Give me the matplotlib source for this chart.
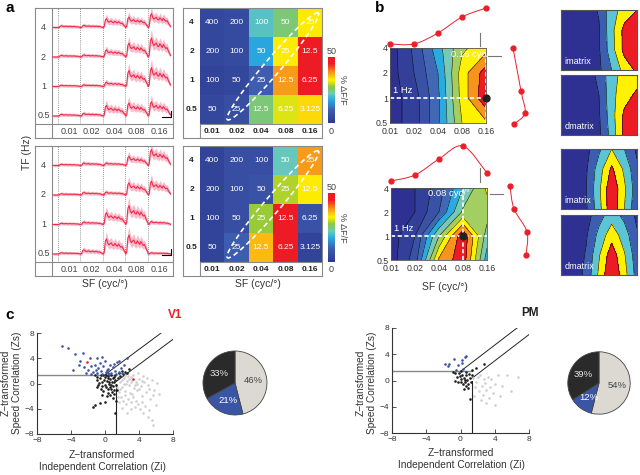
import numpy as np
import matplotlib.pyplot as plt
from matplotlib.colors import LinearSegmentedColormap
from matplotlib.path import Path
from matplotlib.patches import PathPatch
from matplotlib.lines import Line2D
from matplotlib.cm import ScalarMappable
from matplotlib.colors import Normalize

plt.rcParams['font.family'] = ['Liberation Sans', 'DejaVu Sans']

# ---------------- data ----------------
sf_labels = ['0.01', '0.02', '0.04', '0.08', '0.16']
tf_labels = ['4', '2', '1', '0.5']
speed_labels = [['400', '200', '100', '50', '25'],
                ['200', '100', '50', '25', '12.5'],
                ['100', '50', '25', '12.5', '6.25'],
                ['50', '25', '12.5', '6.25', '3.125']]

# mean response (% dF/F); rows TF 4,2,1,0.5 ; columns SF
resp_top = [[4, 5, 21, 25, 33],
            [4, 5, 17, 33, 45],
            [3, 4, 10, 38, 45],
            [4, 6, 25, 31, 34]]
resp_bot = [[3, 6, 6, 22, 38],
            [3, 6, 7, 29, 33],
            [3, 6, 28, 45, 7],
            [3, 10, 36, 45, 3]]

# normalised time course of one stimulus response
resp_shape = [0.0, 0.1, 0.85, 1.0, 0.72, 0.6, 0.68, 0.74, 0.58, 0.55,
              0.7, 0.6, 0.5, 0.66, 0.55, 0.45, 0.5, 0.35, 0.2, 0.08]

# fitted model maps (contour level), rows TF 4,2,1,0.5
fit_top = [[0.5, 2.2, 4.6, 6.8, 7.6],
           [0.5, 2.0, 4.0, 7.5, 9.5],
           [0.5, 1.5, 3.8, 7.4, 9.8],
           [0.5, 1.5, 3.8, 7.0, 7.8]]
fit_bot = [[0.3, 1.0, 2.5, 5.0, 7.2],
           [0.3, 1.0, 3.0, 6.2, 6.5],
           [0.5, 2.0, 6.0, 9.8, 5.5],
           [0.5, 2.5, 8.2, 9.6, 4.5]]

# SF tuning (top of map) and TF tuning (side of map)
sf_tune_top = [6, 6, 17, 33, 42]
sf_tune_bot = [4, 10, 26, 39, 12]
tf_tune_top_x = [8, 16, 20, 9]
tf_tune_top_y = [3.0, 1.28, 0.4, -0.04]
tf_tune_bot_x = [5, 9, 22, 21]
tf_tune_bot_y = [3.08, 2.13, 1.17, 0.21]

# imatrix / dmatrix maps, rows bottom -> top
imat_top = [[0.2, 0.3, 0.4, 0.8, 2.0, 3.4, 4.2],
            [0.2, 0.3, 0.4, 0.9, 2.6, 4.3, 5.5],
            [0.2, 0.3, 0.4, 0.9, 2.7, 4.3, 5.5],
            [0.2, 0.3, 0.5, 1.1, 2.6, 3.4, 4.0]]
dmat_top = [[0.2, 0.3, 0.4, 0.8, 2.4, 4.3, 5.5],
            [0.2, 0.3, 0.4, 0.9, 2.6, 4.2, 5.2],
            [0.2, 0.3, 0.5, 1.0, 2.7, 3.6, 4.2],
            [0.2, 0.3, 0.6, 1.2, 2.7, 3.3, 3.5]]
imat_bot = [[0.2, 0.3, 0.9, 2.6, 4.8, 3.0, 1.2],
            [0.2, 0.3, 1.0, 2.8, 4.8, 3.2, 1.4],
            [0.2, 0.3, 0.9, 2.5, 4.2, 2.8, 1.2],
            [0.2, 0.3, 0.7, 1.8, 3.0, 2.0, 0.8]]
dmat_bot = [[0.2, 0.4, 1.3, 3.2, 5.0, 3.4, 1.6],
            [0.2, 0.4, 1.1, 2.9, 4.6, 3.1, 1.4],
            [0.2, 0.3, 0.9, 2.3, 3.6, 2.5, 1.1],
            [0.2, 0.3, 0.6, 1.6, 2.5, 1.7, 0.8]]

# panel c: (Zi, Zs) per neuron
v1_blue = [(-5.1, 6.0), (-4.3, 5.6), (-3.5, 4.6), (-2.6, 4.8), (-2.9, 3.6), (-3.1, 2.9),
           (-1.8, 4.0), (-1.0, 4.1), (-0.4, 4.25), (2.55, 4.1), (1.4, 3.45), (-2.5, 2.6),
           (-2.0, 2.2), (-1.6, 2.8), (-1.2, 3.0), (-0.8, 2.4), (-0.5, 2.0), (-0.2, 2.7),
           (0.1, 1.9), (0.4, 2.3), (0.7, 1.7), (0.9, 2.6), (1.2, 2.0), (1.6, 1.8),
           (1.9, 2.4), (2.2, 2.9), (-1.4, 1.8), (-0.9, 1.6), (-0.3, 1.5), (0.3, 1.6),
           (0.6, 2.9), (-2.2, 1.7), (-1.7, 1.5), (-0.6, 3.3), (0.0, 3.6), (1.0, 3.1),
           (1.7, 3.6), (2.0, 1.6), (-3.8, 2.2), (0.5, 1.45), (1.3, 1.5), (-1.1, 2.1), (0.2, 2.1)]
v1_black = [(-1.0, 0.6), (-0.8, -0.2), (-0.6, 0.9), (-0.5, -0.8), (-0.3, 0.3), (-0.2, -1.2),
            (0.0, 1.0), (0.1, -0.5), (0.2, 0.4), (0.3, -1.5), (0.4, 1.2), (0.5, -0.1),
            (0.6, 0.7), (0.7, -0.9), (0.8, 0.2), (0.9, -0.4), (1.0, 1.0), (1.1, -1.1),
            (1.2, 0.5), (1.3, -0.2), (-0.7, 0.1), (-0.4, -0.4), (0.0, -0.2), (0.3, 0.9),
            (0.6, -0.6), (0.9, 0.8), (1.2, 1.3), (1.5, 0.9), (1.8, 1.2), (2.1, 1.5),
            (2.4, 1.9), (2.8, 2.3), (1.6, 1.6), (2.0, 2.0), (2.6, 1.6), (-1.2, 1.3),
            (-0.9, 1.1), (-0.2, 1.3), (0.2, -2.0), (0.6, -1.8), (0.9, -2.3), (-0.3, -1.9),
            (0.0, -2.9), (-0.55, -3.1), (-1.2, -3.4), (-1.4, -3.7), (1.2, -4.7), (0.8, -1.3),
            (1.3, -2.7), (-0.1, 0.6), (0.45, 0.2), (0.75, -0.2), (1.05, 0.3), (-0.5, 1.4),
            (0.1, 1.4), (0.7, 1.4), (1.4, -1.0), (1.1, -1.6), (-0.9, -0.6), (0.3, -0.8)]
v1_grey = [(1.5, 0.8), (1.8, 0.2), (2.0, -0.5), (2.2, 0.9), (2.4, -1.2), (2.6, 0.4),
           (2.8, -0.3), (3.0, 1.0), (3.2, -1.6), (3.4, -0.7), (3.6, 0.3), (3.8, -1.1),
           (4.0, 0.7), (4.2, -0.4), (4.4, -2.0), (4.6, 0.2), (4.8, -1.3), (5.0, -0.2),
           (5.3, -2.5), (5.5, 0.6), (5.8, -1.0), (6.1, 0.1), (1.6, -1.4), (1.9, -2.1),
           (2.1, -2.8), (2.3, -1.8), (2.5, -3.3), (2.7, -2.4), (2.9, -1.5), (3.1, -3.0),
           (3.3, -2.2), (3.5, -3.7), (3.7, -2.7), (3.9, -3.2), (4.1, -4.1), (4.3, -3.0),
           (4.5, -4.6), (4.7, -3.6), (5.0, -5.3), (5.2, -4.2), (5.7, -6.6), (5.5, -5.8),
           (6.0, -3.4), (1.7, -3.0), (2.0, -3.9), (2.3, 1.3), (2.7, 1.2), (3.3, 1.4),
           (3.9, 1.6), (4.5, 1.2), (1.6, 1.2), (2.0, 0.6), (2.5, -0.1), (3.0, 0.3),
           (3.5, -0.2), (4.0, -0.8), (1.4, -0.6), (1.8, -0.8), (2.2, -0.1), (2.8, 0.7),
           (3.2, 0.6), (3.8, 0.0), (4.3, 0.4), (4.9, 0.9), (5.2, -0.9), (5.6, -1.8),
           (2.6, -4.6), (3.0, -4.1), (1.5, -2.2), (6.4, -1.6)]
v1_red = [(-2.1, 3.45), (3.3, 0.7)]

pm_blue = [(-1.8, 2.5), (-1.5, 2.25), (-0.8, 3.3), (-0.25, 2.4), (0.15, 3.1), (0.5, 3.6),
           (0.6, 3.8), (0.2, 2.7), (-1.3, 2.5), (0.3, 1.7), (-0.5, 1.6)]
pm_black = [(-0.9, 1.3), (-0.6, 1.1), (-0.4, 0.6), (-0.2, 1.2), (0.0, 0.3), (0.1, -0.2),
            (0.2, 0.9), (0.3, -0.6), (0.4, 0.4), (0.5, -0.3), (0.6, 0.8), (0.7, -0.9),
            (0.8, 0.1), (0.9, -0.5), (1.0, 1.0), (1.1, 0.4), (1.2, -0.3), (-0.3, -0.3),
            (0.4, -1.3), (0.7, 1.3), (1.4, 1.6), (1.8, 1.9), (2.75, 2.5), (1.1, -2.8),
            (-0.7, 0.0), (0.0, 1.4), (0.55, 0.1), (0.85, -1.1), (-0.1, 0.7), (1.3, 0.8)]
pm_grey = [(1.5, 0.4), (1.8, -0.3), (2.0, 0.6), (2.3, 0.8), (2.5, -0.8), (2.8, 0.2),
           (3.0, -1.4), (3.2, 0.5), (3.6, 0.2), (4.0, -0.6), (4.4, 0.8), (5.4, 0.9),
           (6.7, 0.6), (5.9, -1.6), (4.0, -3.8), (2.2, -1.6), (2.6, -2.2), (3.3, -2.6),
           (3.8, -1.9), (4.6, -2.3), (1.7, -1.0), (2.9, -0.4), (3.4, -1.0), (1.6, -2.4),
           (2.4, -3.0), (3.0, -3.5), (4.9, -0.8)]

zs_thr = 1.4      # speed threshold
zi_thr = 1.3      # independent threshold

v1_pie = [46, 21, 33]
v1_pie_labels = ['46%', '21%', '33%']
pm_pie = [54, 12, 34]
pm_pie_labels = ['54%', '12%', '39%']

# ---------------- style ----------------
W, H = 640, 475
fig = plt.figure(figsize=(6.4, 4.75), dpi=100)

heat_cmap = LinearSegmentedColormap.from_list('heat', [
    (0.0, '#2b3990'), (0.2, '#3f5db0'), (0.35, '#29abe2'), (0.45, '#6ccbb5'),
    (0.55, '#8dc63f'), (0.65, '#fff200'), (0.77, '#f7941d'), (0.9, '#ed1c24'), (1.0, '#ed1c24')])
fit_colors = ['#2e3192', '#33409a', '#3a52a6', '#4268b5', '#29abe2',
              '#74c9b7', '#a3cf62', '#fff200', '#f7941d', '#ed1c24']
mat_colors = ['#2e3192', '#3d5db0', '#5cc5d5', '#fff200', '#ed1c24']
RED = '#e8202a'
BLUE = '#3b55a5'
GREY_TXT = '#444444'


def px_axes(x0, y0, x1, y1):
    return fig.add_axes([x0 / W, 1 - y1 / H, (x1 - x0) / W, (y1 - y0) / H])


def ftext(x, y, s, **kw):
    fig.text(x / W, 1 - y / H, s, **kw)


def fline(xs, ys, **kw):
    fig.add_artist(Line2D([x / W for x in xs], [1 - y / H for y in ys], **kw))


def smooth_curve(ax, xs, ys, **kw):
    pts = np.column_stack([xs, ys]).astype(float)
    n = len(pts)
    verts = [pts[0]]
    codes = [Path.MOVETO]
    for i in range(n - 1):
        p0, p1 = pts[max(i - 1, 0)], pts[i]
        p2, p3 = pts[i + 1], pts[min(i + 2, n - 1)]
        verts += [p1 + (p2 - p0) / 6, p2 - (p3 - p1) / 6, p2]
        codes += [Path.CURVE4] * 3
    ax.add_patch(PathPatch(Path(verts, codes), fill=False, **kw))


def box_spines(ax, color='#8a8a8a'):
    for s in ax.spines.values():
        s.set_color(color)
        s.set_linewidth(0.8)
    ax.set_xticks([])
    ax.set_yticks([])


# ---------------- panel a : traces ----------------
def draw_traces(ax, resp):
    ax.set_xlim(-1.02, 5.11)
    ax.set_ylim(0, 130)
    box_spines(ax)
    ax.vlines(range(5), 14, 130, colors='#777777', linestyles=(0, (1, 1.5)), lw=0.6)
    ax.axhline(14, color='#8a8a8a', lw=0.8)
    ax.axvline(-0.27, color='#8a8a8a', lw=0.8)
    ns = len(resp_shape)
    for r, row in enumerate(resp):
        base = 110.5 - 29.5 * r
        xs = [np.array([-0.22, 0.0])]
        ys = [np.zeros(2)]
        for k, v in enumerate(row):
            xs.append(k + np.linspace(0, 1, ns))
            ys.append(np.array(resp_shape) * v * 0.42)
        x = np.concatenate(xs)
        y = np.concatenate(ys)
        ax.fill_between(x, base + y - 1.2 - 0.3 * y, base + y + 1.5 + 0.35 * y,
                        color='#f6bccd', lw=0)
        ax.plot(x, base + y, color='#ef2b47', lw=0.8)
        ax.text(-0.64, base, tf_labels[r], ha='center', va='center', size=6.5, color=GREY_TXT)
    for k, lab in enumerate(sf_labels):
        ax.text(k + 0.5, 7, lab, ha='center', va='center', size=6.5, color=GREY_TXT)
    ax.plot([4.6, 5.0, 5.0], [21, 21, 27], color='k', lw=0.8)


def draw_heat(ax, resp):
    z = np.array(resp, dtype=float)[::-1]
    ax.pcolormesh(np.arange(6), np.arange(5), z, cmap=heat_cmap, vmin=0, vmax=50)
    ax.set_xlim(-0.7, 5)
    ax.set_ylim(-0.48, 4)
    box_spines(ax)
    ax.plot([0, 0], [-0.48, 0], color='#8a8a8a', lw=0.8)
    ax.plot([0, 5], [0, 0], color='#8a8a8a', lw=0.8)
    for r in range(4):
        for c in range(5):
            ax.text(c + 0.5, 3.5 - r, speed_labels[r][c], color='white',
                    ha='center', va='center', size=6)
        ax.text(-0.35, 3.5 - r, tf_labels[r], ha='center', va='center', size=6,
                weight='bold', color='#222222')
    for c, lab in enumerate(sf_labels):
        ax.text(c + 0.5, -0.25, lab, ha='center', va='center', size=6, weight='bold',
                color='#222222')
    # dashed iso-speed ellipse
    sx, sy = 24.4, 29.0
    p1 = np.array([1.12, 0.15])
    p2 = np.array([4.85, 3.83])
    c0 = (p1 + p2) / 2
    d = (p2 - p1) * [sx, sy]
    a = np.hypot(*d) / 2
    u = d / np.hypot(*d)
    v = np.array([-u[1], u[0]])
    t = np.linspace(0, 2 * np.pi, 200)
    pts = np.outer(a * np.cos(t), u) + np.outer(8 * np.sin(t), v)
    ax.plot(c0[0] + pts[:, 0] / sx, c0[1] + pts[:, 1] / sy, color='white', lw=1.2,
            dashes=(3, 2))


def draw_cbar(y0, y1):
    cax = px_axes(328, y0, 335, y1)
    cb = fig.colorbar(ScalarMappable(Normalize(0, 50), heat_cmap), cax=cax)
    cb.outline.set_visible(False)
    cax.set_yticks([])
    ftext(331.5, y0 - 6, '50', ha='center', va='center', size=6.5, color=GREY_TXT)
    ftext(331.5, y1 + 8, '0', ha='center', va='center', size=6.5, color=GREY_TXT)
    ftext(342, (y0 + y1) / 2, '% ΔF/F', ha='center', va='center', size=6.5,
          rotation=-90, color=GREY_TXT)


ax = px_axes(35, 8, 173, 138)
draw_traces(ax, resp_top)
ax = px_axes(35, 146, 173, 276)
draw_traces(ax, resp_bot)
ax = px_axes(183, 8, 322, 138)
draw_heat(ax, resp_top)
ax = px_axes(183, 146, 322, 276)
draw_heat(ax, resp_bot)
draw_cbar(57, 123)
draw_cbar(193, 262)

ftext(6, 8, 'a', size=11, weight='bold', va='center')
ftext(27, 152, 'TF (Hz)', rotation=90, ha='center', va='center', size=7.5, color='#333333')
ftext(105, 284, 'SF (cyc/°)', ha='center', va='center', size=7.5, color='#333333')
ftext(258, 284, 'SF (cyc/°)', ha='center', va='center', size=7.5, color='#333333')


# ---------------- panel b : fitted maps ----------------
def draw_fit(ax, fit, sf_i, sf_text, text_x):
    z = np.array(fit)[::-1]
    X, Y = np.meshgrid(np.arange(5), np.arange(4))
    ax.contourf(X, Y, z, levels=np.arange(11), colors=fit_colors)
    ax.contour(X, Y, z, levels=np.arange(1, 10), colors='k', linewidths=0.35)
    ax.set_xlim(0, 4)
    ax.set_ylim(0, 3)
    ax.set_xticks(range(5))
    ax.set_xticklabels(sf_labels)
    ax.set_yticks(range(4))
    ax.set_yticklabels(tf_labels[::-1])
    ax.tick_params(length=0, labelsize=6.3, colors='#333333')
    ax.tick_params(axis='x', pad=3)
    ax.tick_params(axis='y', pad=1.5)
    for s in ax.spines.values():
        s.set_color('#555555')
        s.set_linewidth(0.6)
    ax.plot([0, 4], [1, 1], color='white', lw=1.2, dashes=(2.5, 1.5))
    ax.plot([sf_i, sf_i], [0, 3], color='white', lw=1.2, dashes=(2.5, 1.5))
    ax.plot(sf_i, 1, 'o', color='#222222', ms=5, clip_on=False, zorder=5)
    ax.text(0.12, 1.12, '1 Hz', color='white', size=6.8, va='bottom')
    ax.text(text_x, 2.75, sf_text, color='white', size=6.8, va='center')


def draw_sf_tune(ax, vals, top):
    ax.set_xlim(0, 4)
    ax.set_ylim(0, top)
    ax.axis('off')
    smooth_curve(ax, range(5), vals, ec=RED, lw=0.7)
    ax.plot(range(5), vals, 'o', color=RED, ms=3.5, clip_on=False)


def draw_tf_tune(ax, xs, ys):
    ax.set_xlim(0, 30)
    ax.set_ylim(0, 3)
    ax.axis('off')
    smooth_curve(ax, xs, ys, ec=RED, lw=0.7)
    ax.plot(xs, ys, 'o', color=RED, ms=3.5, clip_on=False)


def draw_mat(ax, mat, label):
    z = np.array(mat)
    X, Y = np.meshgrid(np.linspace(0, 1, z.shape[1]), np.linspace(0, 1, z.shape[0]))
    ax.contourf(X, Y, z, levels=[0, 1, 2, 3, 4, 6], colors=mat_colors)
    ax.contour(X, Y, z, levels=[1, 2, 3, 4], colors='k', linewidths=0.4)
    box_spines(ax, '#555555')
    ax.text(0.05, 0.1, label, color='white', size=6.5, transform=ax.transAxes)


ax = px_axes(390, 48, 486, 123)
draw_fit(ax, fit_top, 4, '0.16 cyc/°', 2.55)
ax = px_axes(391, 188, 487, 260)
draw_fit(ax, fit_bot, 3, '0.08 cyc/°', 1.55)

draw_sf_tune(px_axes(390, 0, 486, 50), sf_tune_top, 50)
draw_sf_tune(px_axes(391, 130, 487, 185), sf_tune_bot, 55)
draw_tf_tune(px_axes(505, 48, 535, 123), tf_tune_top_x, tf_tune_top_y)
draw_tf_tune(px_axes(505, 188, 535, 260), tf_tune_bot_x, tf_tune_bot_y)

fline([480, 480], [33, 46], color='#777777', lw=0.8)
fline([488, 501], [56, 56], color='#777777', lw=0.8)
fline([480, 480], [168, 182], color='#777777', lw=0.8)
fline([490, 503], [194, 194], color='#777777', lw=0.8)

draw_mat(px_axes(561, 10, 637, 70), imat_top, 'imatrix')
draw_mat(px_axes(561, 75, 637, 135), dmat_top, 'dmatrix')
draw_mat(px_axes(561, 149, 637, 209), imat_bot, 'imatrix')
draw_mat(px_axes(561, 215, 637, 275), dmat_bot, 'dmatrix')

ftext(375, 8, 'b', size=11, weight='bold', va='center')
ftext(445, 287, 'SF (cyc/°)', ha='center', va='center', size=7.5, color='#333333')


# ---------------- panel c : scatter + pies ----------------
def draw_scatter(ax, blue, black, grey, red):
    ax.set_xlim(-8, 8)
    ax.set_ylim(-8, 8)
    for s in ['top', 'right']:
        ax.spines[s].set_visible(False)
    for s in ['left', 'bottom']:
        ax.spines[s].set_color('#333333')
        ax.spines[s].set_linewidth(0.8)
    ax.set_xticks([-8, -4, 0, 4, 8])
    ax.set_yticks([-8, -4, 0, 4, 8])
    ax.tick_params(direction='in', length=3, width=0.6, labelsize=6, colors='#333333', pad=2)
    ax.patch.set_alpha(0)
    ax.plot([-8, zi_thr], [zs_thr, zs_thr], color='#888888', lw=1.0)
    ax.plot([zi_thr, zi_thr], [-8, 0], color='#222222', lw=0.8)
    ax.plot([0, 6.6], [zs_thr, 6.6 + zs_thr], color='#222222', lw=0.7)
    ax.plot([zi_thr, 8], [zi_thr - 1.0, 7.0], color='#222222', lw=0.7)
    for pts, col in [(grey, '#cfcfcf'), (black, '#1e1e1e'), (blue, BLUE), (red, RED)]:
        if pts:
            a = np.array(pts)
            ax.scatter(a[:, 0], a[:, 1], s=3.5, color=col, lw=0, zorder=3)


def draw_pie(ax, vals, labels):
    wedges, _, auto = ax.pie(vals, colors=['#dcd9d2', BLUE, '#2a2a2a'], startangle=90,
                             counterclock=False, autopct='%d', pctdistance=0.58,
                             wedgeprops=dict(ec='#444444', lw=0.6))
    for t, lab, col in zip(auto, labels, ['#444444', 'white', '#e6e6e6']):
        t.set_text(lab)
        t.set_color(col)
        t.set_fontsize(6.8)
    ax.set_aspect('equal')


draw_scatter(px_axes(37, 333, 173, 434), v1_blue, v1_black, v1_grey, v1_red)
draw_scatter(px_axes(392, 328, 529, 433), pm_blue, pm_black, pm_grey, [])
draw_pie(px_axes(195, 343, 275, 423), v1_pie, v1_pie_labels)
draw_pie(px_axes(560, 344, 638, 422), pm_pie, pm_pie_labels)

for x0, xl, yl in [(0, 102, 455), (355, 461, 453)]:
    ftext(x0 + 6, 383, 'Z−transformed', rotation=90, ha='center', va='center', size=7.3, color='#333333')
    ftext(x0 + 17, 383, 'Speed Correlation (Zs)', rotation=90, ha='center', va='center', size=7.3, color='#333333')
    ftext(xl, yl, 'Z−transformed', ha='center', va='center', size=7.3, color='#333333')
    ftext(xl, yl + 12, 'Independent Correlation (Zi)', ha='center', va='center', size=7.3, color='#333333')

ftext(5, 315, 'c', size=11, weight='bold', va='center')
ftext(175, 315, 'V1', size=8.5, weight='bold', va='center', ha='center', color=RED)
ftext(530, 313, 'PM', size=8.5, weight='bold', va='center', ha='center', color='#222222')

fig.savefig('out.png', dpi=100)
